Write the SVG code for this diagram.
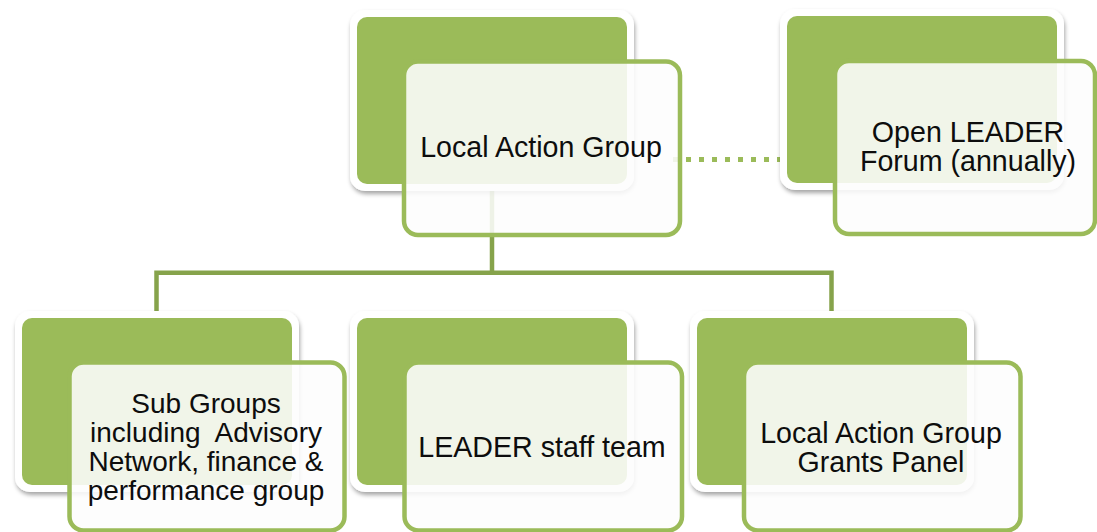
<svg xmlns="http://www.w3.org/2000/svg" width="1097" height="532" viewBox="0 0 1097 532">
  <defs>
    <filter id="shadow" x="-10%" y="-10%" width="120%" height="125%">
      <feDropShadow dx="1" dy="3" stdDeviation="2.2" flood-color="#000" flood-opacity="0.35"/>
    </filter>
  </defs>
  <style>
    .frame { fill: #ffffff; filter: url(#shadow); }
    .back { fill: #9bbb59; }
    .front { fill: #fdfdfd; fill-opacity: 0.88; stroke: #9bbb59; stroke-width: 4.5; }
    .label { font-family: "Liberation Sans", Arial, sans-serif; font-size: 28.6px; fill: #0d0d0d; text-anchor: middle; white-space: pre; }
    .dense { font-size: 28px; }
    .link { fill: none; stroke: #86a34b; stroke-width: 4.5; }
    .dotted { fill: none; stroke: #9bbb59; stroke-width: 5; stroke-dasharray: 5 8; }
  </style>

  <!-- connectors -->
  <g id="connectors">
    <path class="link" d="M492 184 V272.8 M156.5 312 V272.8 H831.5 V312"/>
    <path class="dotted" d="M673 159.5 H786"/>
  </g>

  <!-- Local Action Group -->
  <g id="node-lag">
    <rect class="frame" x="350" y="10" width="284" height="181" rx="15"/>
    <rect class="back" x="357" y="17" width="270" height="167" rx="10"/>
    <rect class="front" x="404" y="61.5" width="276" height="173.5" rx="14"/>
    <text class="label" x="541" y="157">Local Action Group</text>
  </g>

  <!-- Open LEADER Forum -->
  <g id="node-forum">
    <rect class="frame" x="780" y="9" width="284" height="181" rx="15"/>
    <rect class="back" x="787" y="16" width="270" height="167" rx="10"/>
    <rect class="front" x="835" y="61" width="260" height="173" rx="14"/>
    <text class="label" x="968" y="141.5">Open LEADER</text>
    <text class="label" x="968" y="170.5">Forum (annually)</text>
  </g>

  <!-- Sub Groups -->
  <g id="node-subgroups">
    <rect class="frame" x="15" y="311" width="284" height="181" rx="15"/>
    <rect class="back" x="22" y="318" width="270" height="167" rx="10"/>
    <rect class="front" x="69.5" y="362.5" width="275" height="168" rx="14"/>
    <text class="label dense" x="206" y="412.7">Sub Groups</text>
    <text class="label dense" x="206" y="441.7">including  Advisory</text>
    <text class="label dense" x="206" y="471">Network, finance &amp;</text>
    <text class="label dense" x="206" y="500">performance group</text>
  </g>

  <!-- LEADER staff team -->
  <g id="node-staff">
    <rect class="frame" x="350" y="311" width="284" height="181" rx="15"/>
    <rect class="back" x="357" y="318" width="270" height="167" rx="10"/>
    <rect class="front" x="404.5" y="362.5" width="277.5" height="168" rx="14"/>
    <text class="label" x="542" y="457.3">LEADER staff team</text>
  </g>

  <!-- Grants Panel -->
  <g id="node-grants">
    <rect class="frame" x="690" y="311" width="284" height="181" rx="15"/>
    <rect class="back" x="697" y="318" width="270" height="167" rx="10"/>
    <rect class="front" x="744" y="362.5" width="276.5" height="168" rx="14"/>
    <text class="label" x="881" y="443.3">Local Action Group</text>
    <text class="label" x="881" y="472.3">Grants Panel</text>
  </g>
</svg>
